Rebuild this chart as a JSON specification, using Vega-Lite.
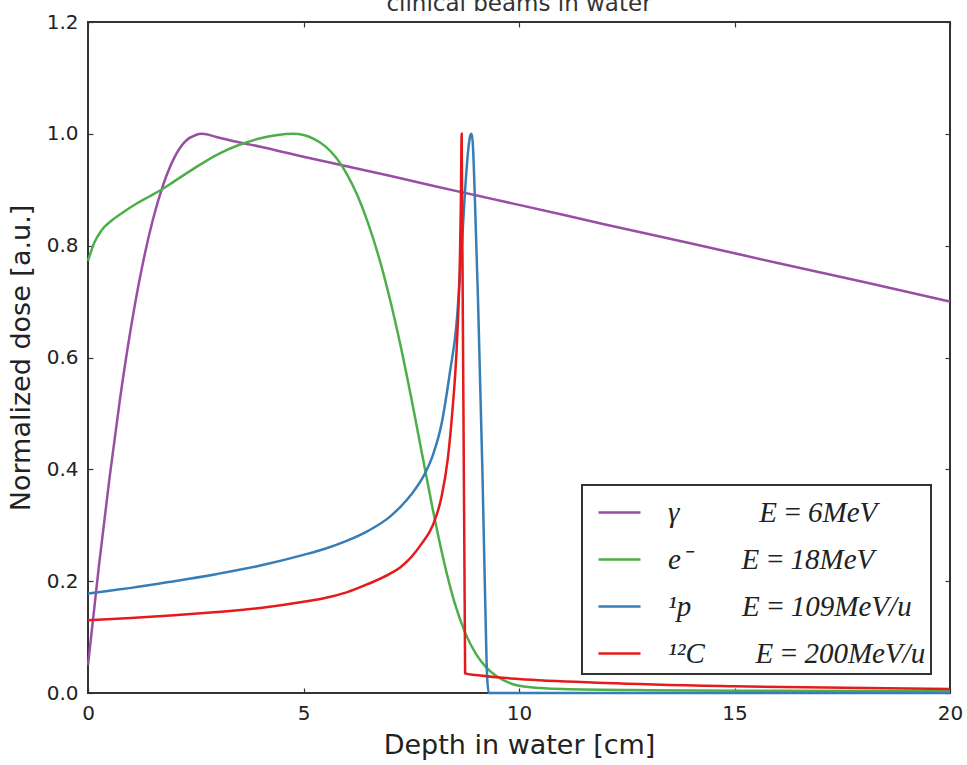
{
  "$schema": "https://vega.github.io/schema/vega-lite/v6.json",
  "width": 862,
  "height": 671,
  "autosize": {"type": "none"},
  "padding": {"left": 88, "top": 22, "right": 17, "bottom": 72},
  "background": "white",
  "title": {"text": "clinical beams in water", "font": "DejaVu Sans", "fontSize": 23, "fontWeight": "normal", "color": "#333", "offset": -22, "baseline": "alphabetic"},
  "config": {
    "view": {"stroke": "#333", "strokeWidth": 2},
    "axis": {"grid": false, "domain": false, "labelFont": "DejaVu Sans", "labelFontSize": 20, "labelColor": "#222", "titleFont": "DejaVu Sans", "titleFontSize": 27, "titleFontWeight": "normal", "titleColor": "#222", "tickColor": "#333", "tickSize": -5, "tickWidth": 1.2, "labelPadding": 15, "labelFlush": false}
  },
  "datasets": {
    "beams": [
      {"beam": "γ", "d": 0, "v": 0.05},
      {"beam": "γ", "d": 0.25, "v": 0.225},
      {"beam": "γ", "d": 0.5, "v": 0.385},
      {"beam": "γ", "d": 0.75, "v": 0.53},
      {"beam": "γ", "d": 1.0, "v": 0.655},
      {"beam": "γ", "d": 1.25, "v": 0.76},
      {"beam": "γ", "d": 1.5, "v": 0.845},
      {"beam": "γ", "d": 1.75, "v": 0.91},
      {"beam": "γ", "d": 2.0, "v": 0.957},
      {"beam": "γ", "d": 2.25, "v": 0.986},
      {"beam": "γ", "d": 2.5, "v": 0.998},
      {"beam": "γ", "d": 2.65, "v": 1.0},
      {"beam": "γ", "d": 3.0, "v": 0.994},
      {"beam": "γ", "d": 3.5, "v": 0.985},
      {"beam": "γ", "d": 4.0, "v": 0.977},
      {"beam": "γ", "d": 5.0, "v": 0.959},
      {"beam": "γ", "d": 6.0, "v": 0.942},
      {"beam": "γ", "d": 7.0, "v": 0.925},
      {"beam": "γ", "d": 8.0, "v": 0.907},
      {"beam": "γ", "d": 9.0, "v": 0.89},
      {"beam": "γ", "d": 10.0, "v": 0.873},
      {"beam": "γ", "d": 12.0, "v": 0.838},
      {"beam": "γ", "d": 14.0, "v": 0.804},
      {"beam": "γ", "d": 16.0, "v": 0.769},
      {"beam": "γ", "d": 18.0, "v": 0.735},
      {"beam": "γ", "d": 20.0, "v": 0.70},
      {"beam": "e⁻", "d": 0, "v": 0.773},
      {"beam": "e⁻", "d": 0.15, "v": 0.806},
      {"beam": "e⁻", "d": 0.3, "v": 0.826},
      {"beam": "e⁻", "d": 0.55, "v": 0.845},
      {"beam": "e⁻", "d": 0.8, "v": 0.859},
      {"beam": "e⁻", "d": 1.1, "v": 0.874},
      {"beam": "e⁻", "d": 1.4, "v": 0.887},
      {"beam": "e⁻", "d": 1.7, "v": 0.90},
      {"beam": "e⁻", "d": 2.0, "v": 0.915},
      {"beam": "e⁻", "d": 2.5, "v": 0.94},
      {"beam": "e⁻", "d": 3.0, "v": 0.963},
      {"beam": "e⁻", "d": 3.5, "v": 0.98},
      {"beam": "e⁻", "d": 4.0, "v": 0.992},
      {"beam": "e⁻", "d": 4.4, "v": 0.998},
      {"beam": "e⁻", "d": 4.76, "v": 1.0},
      {"beam": "e⁻", "d": 5.0, "v": 0.998},
      {"beam": "e⁻", "d": 5.25, "v": 0.9905},
      {"beam": "e⁻", "d": 5.5, "v": 0.978},
      {"beam": "e⁻", "d": 5.75, "v": 0.958},
      {"beam": "e⁻", "d": 6.0, "v": 0.929},
      {"beam": "e⁻", "d": 6.25, "v": 0.89},
      {"beam": "e⁻", "d": 6.5, "v": 0.84},
      {"beam": "e⁻", "d": 6.75, "v": 0.779},
      {"beam": "e⁻", "d": 7.0, "v": 0.706},
      {"beam": "e⁻", "d": 7.25, "v": 0.622},
      {"beam": "e⁻", "d": 7.5, "v": 0.528},
      {"beam": "e⁻", "d": 7.75, "v": 0.428},
      {"beam": "e⁻", "d": 8.0, "v": 0.328},
      {"beam": "e⁻", "d": 8.25, "v": 0.238},
      {"beam": "e⁻", "d": 8.5, "v": 0.163},
      {"beam": "e⁻", "d": 8.75, "v": 0.108},
      {"beam": "e⁻", "d": 9.0, "v": 0.07},
      {"beam": "e⁻", "d": 9.25, "v": 0.045},
      {"beam": "e⁻", "d": 9.5, "v": 0.029},
      {"beam": "e⁻", "d": 9.75, "v": 0.019},
      {"beam": "e⁻", "d": 10.0, "v": 0.013},
      {"beam": "e⁻", "d": 10.5, "v": 0.009},
      {"beam": "e⁻", "d": 11.0, "v": 0.007},
      {"beam": "e⁻", "d": 13.0, "v": 0.005},
      {"beam": "e⁻", "d": 16.0, "v": 0.004},
      {"beam": "e⁻", "d": 20.0, "v": 0.003},
      {"beam": "¹p", "d": 0, "v": 0.178},
      {"beam": "¹p", "d": 0.5, "v": 0.183},
      {"beam": "¹p", "d": 1.0, "v": 0.188},
      {"beam": "¹p", "d": 2.0, "v": 0.20},
      {"beam": "¹p", "d": 3.0, "v": 0.213},
      {"beam": "¹p", "d": 4.0, "v": 0.228},
      {"beam": "¹p", "d": 5.0, "v": 0.247},
      {"beam": "¹p", "d": 5.5, "v": 0.258},
      {"beam": "¹p", "d": 6.0, "v": 0.272},
      {"beam": "¹p", "d": 6.5, "v": 0.29},
      {"beam": "¹p", "d": 7.0, "v": 0.315},
      {"beam": "¹p", "d": 7.25, "v": 0.333},
      {"beam": "¹p", "d": 7.5, "v": 0.355},
      {"beam": "¹p", "d": 7.8, "v": 0.39},
      {"beam": "¹p", "d": 8.0, "v": 0.425},
      {"beam": "¹p", "d": 8.2, "v": 0.48},
      {"beam": "¹p", "d": 8.4, "v": 0.575},
      {"beam": "¹p", "d": 8.55, "v": 0.66},
      {"beam": "¹p", "d": 8.65, "v": 0.77},
      {"beam": "¹p", "d": 8.75, "v": 0.9},
      {"beam": "¹p", "d": 8.82, "v": 0.97},
      {"beam": "¹p", "d": 8.87, "v": 0.997},
      {"beam": "¹p", "d": 8.9, "v": 1.0},
      {"beam": "¹p", "d": 8.93, "v": 0.98},
      {"beam": "¹p", "d": 8.97, "v": 0.9},
      {"beam": "¹p", "d": 9.05, "v": 0.7},
      {"beam": "¹p", "d": 9.15, "v": 0.4},
      {"beam": "¹p", "d": 9.22, "v": 0.15},
      {"beam": "¹p", "d": 9.26, "v": 0.03},
      {"beam": "¹p", "d": 9.3, "v": 0.0},
      {"beam": "¹p", "d": 20.0, "v": 0.0},
      {"beam": "¹²C", "d": 0, "v": 0.13},
      {"beam": "¹²C", "d": 1.0, "v": 0.134},
      {"beam": "¹²C", "d": 2.0, "v": 0.139},
      {"beam": "¹²C", "d": 3.0, "v": 0.145},
      {"beam": "¹²C", "d": 4.0, "v": 0.152},
      {"beam": "¹²C", "d": 5.0, "v": 0.163},
      {"beam": "¹²C", "d": 5.5, "v": 0.17},
      {"beam": "¹²C", "d": 6.0, "v": 0.18},
      {"beam": "¹²C", "d": 6.5, "v": 0.195},
      {"beam": "¹²C", "d": 7.0, "v": 0.213},
      {"beam": "¹²C", "d": 7.25, "v": 0.225},
      {"beam": "¹²C", "d": 7.5, "v": 0.243},
      {"beam": "¹²C", "d": 7.75, "v": 0.268},
      {"beam": "¹²C", "d": 8.0, "v": 0.30},
      {"beam": "¹²C", "d": 8.2, "v": 0.35},
      {"beam": "¹²C", "d": 8.35, "v": 0.42},
      {"beam": "¹²C", "d": 8.45, "v": 0.50},
      {"beam": "¹²C", "d": 8.55, "v": 0.61},
      {"beam": "¹²C", "d": 8.6, "v": 0.70},
      {"beam": "¹²C", "d": 8.63, "v": 0.78},
      {"beam": "¹²C", "d": 8.65, "v": 0.87},
      {"beam": "¹²C", "d": 8.67, "v": 1.0},
      {"beam": "¹²C", "d": 8.75, "v": 0.035},
      {"beam": "¹²C", "d": 9.0, "v": 0.032},
      {"beam": "¹²C", "d": 10.0, "v": 0.025},
      {"beam": "¹²C", "d": 12.0, "v": 0.018},
      {"beam": "¹²C", "d": 15.0, "v": 0.012},
      {"beam": "¹²C", "d": 20.0, "v": 0.007}
    ]
  },
  "data": {"name": "beams"},
  "layer": [
    {
      "mark": {"type": "line", "strokeWidth": 2.5, "interpolate": "monotone"},
      "encoding": {
        "x": {"field": "d", "type": "quantitative", "scale": {"domain": [0, 20], "nice": false}, "axis": {"title": "Depth in water [cm]", "values": [0, 5, 10, 15, 20], "titlePadding": 9}},
        "y": {"field": "v", "type": "quantitative", "scale": {"domain": [0, 1.2], "nice": false}, "axis": {"title": "Normalized dose [a.u.]", "values": [0, 0.2, 0.4, 0.6, 0.8, 1.0, 1.2], "format": ".1f", "titlePadding": 11}},
        "color": {
          "field": "beam", "type": "nominal",
          "scale": {"domain": ["γ", "e⁻", "¹p", "¹²C"], "range": ["#984ea3", "#4daf4a", "#377eb8", "#e41a1c"]},
          "legend": {
            "orient": "none", "legendX": 494, "legendY": 463, "title": null,
            "fillColor": "white", "strokeColor": "#333", "padding": 5,
            "symbolType": "stroke", "symbolSize": 1764, "symbolStrokeWidth": 2.5, "symbolOffset": 10,
            "labelFont": "Liberation Serif", "labelFontStyle": "italic", "labelFontSize": 29, "labelColor": "#222",
            "labelOffset": 26, "rowPadding": 9, "labelLimit": 500,
            "labelExpr": "datum.value == 'γ' ? 'γ\u00a0\u00a0\u00a0\u00a0\u00a0\u00a0\u00a0\u00a0\u00a0\u00a0\u00a0E\u2009=\u20096MeV' : datum.value == 'e⁻' ? 'e⁻\u00a0\u00a0\u00a0\u00a0\u00a0\u00a0\u00a0E\u2009=\u200918MeV' : datum.value == '¹p' ? '¹p\u00a0\u00a0\u00a0\u00a0\u00a0\u00a0\u00a0E\u2009=\u2009109MeV/u' : '¹²C\u00a0\u00a0\u00a0\u00a0\u00a0\u00a0\u00a0E\u2009=\u2009200MeV/u\u00a0'",
            "encode": {"legend": {"update": {"strokeWidth": {"value": 2}}}}
          }
        }
      }
    },
    {
      "mark": {"type": "point", "opacity": 0},
      "encoding": {
        "x": {"field": "d", "type": "quantitative", "axis": {"orient": "top", "labels": false, "title": null, "values": [0, 5, 10, 15, 20], "minExtent": 0, "maxExtent": 0}},
        "y": {"field": "v", "type": "quantitative", "axis": {"orient": "right", "labels": false, "title": null, "values": [0, 0.2, 0.4, 0.6, 0.8, 1.0, 1.2], "minExtent": 0, "maxExtent": 0}}
      }
    }
  ],
  "resolve": {"axis": {"x": "independent", "y": "independent"}}
}
